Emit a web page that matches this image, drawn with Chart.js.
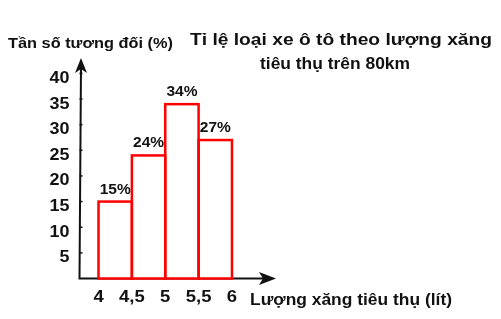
<!DOCTYPE html>
<html>
<head>
<meta charset="utf-8">
<script src="https://cdn.jsdelivr.net/npm/chart.js@4/dist/chart.umd.min.js"></script>
<style>
  body { margin: 0; background: #fff; }
  canvas { display: block; }
</style>
</head>
<body>
<canvas id="chart" width="501" height="319"></canvas>
<script>
// Histogram data: fuel use per 80km (litres) -> relative frequency (%)
const binStarts = [4, 4.5, 5, 5.5];
const binWidth = 0.5;
const percents = [15, 24, 34, 27];
const xTickValues = [4, 4.5, 5, 5.5, 6];
const xTickLabels = ['4', '4,5', '5', '5,5', '6'];
const yTickValues = [5, 10, 15, 20, 25, 30, 35, 40];

const titleLines = ['Tỉ lệ loại xe ô tô theo lượng xăng', 'tiêu thụ trên 80km'];
const yTitle = 'Tần số tương đối (%)';
const xTitle = 'Lượng xăng tiêu thụ (lít)';

const FONT = '"Liberation Sans", Arial, sans-serif';

// draws bold text, stretched horizontally (fit to a width if given)
function drawText(ctx, text, x, y, size, align, opts = {}) {
  ctx.save();
  ctx.font = `bold ${size}px ${FONT}`;
  ctx.fillStyle = '#111';
  ctx.textBaseline = 'alphabetic';
  const w = ctx.measureText(text).width;
  const sx = opts.width ? opts.width / w : (opts.stretch || 1);
  ctx.translate(x, y);
  ctx.scale(sx, 1);
  ctx.textAlign = align;
  ctx.fillText(text, 0, 0);
  ctx.restore();
}

function arrow(ctx, tipX, tipY, dir, len, half) {
  ctx.beginPath();
  if (dir === 'up') {
    ctx.moveTo(tipX, tipY);
    ctx.lineTo(tipX - half, tipY + len);
    ctx.lineTo(tipX, tipY + len - 4);
    ctx.lineTo(tipX + half, tipY + len);
  } else {
    ctx.moveTo(tipX, tipY);
    ctx.lineTo(tipX - len, tipY - half);
    ctx.lineTo(tipX - len + 4, tipY);
    ctx.lineTo(tipX - len, tipY + half);
  }
  ctx.closePath();
  ctx.fill();
}

const axesPlugin = {
  id: 'axesPlugin',
  beforeDatasetsDraw(chart) {
    const { ctx, chartArea: a, scales } = chart;
    ctx.save();
    ctx.strokeStyle = '#111';
    ctx.fillStyle = '#111';
    ctx.lineWidth = 2;
    ctx.beginPath();
    ctx.moveTo(a.left - 1, a.bottom);
    ctx.lineTo(a.right - 8, a.bottom);
    ctx.moveTo(a.left, a.bottom);
    ctx.lineTo(a.left + 1.5, a.top + 8);
    ctx.stroke();
    arrow(ctx, a.left + 1.5, a.top, 'up', 15, 6);
    arrow(ctx, a.right, a.bottom, 'right', 17, 6.5);

    // small tick marks on y axis
    ctx.lineWidth = 1.5;
    yTickValues.forEach((v) => {
      const py = scales.y.getPixelForValue(v);
      ctx.beginPath();
      ctx.moveTo(a.left, py);
      ctx.lineTo(a.left + 3, py);
      ctx.stroke();
    });
    ctx.restore();
  },
  afterDatasetsDraw(chart) {
    const { ctx, chartArea: a, scales } = chart;
    const meta = chart.getDatasetMeta(0);

    // red outlines of the histogram bars
    ctx.save();
    ctx.strokeStyle = '#ff0000';
    ctx.lineWidth = 2.5;
    meta.data.forEach((bar) => {
      const { x, y, base, width } = bar.getProps(['x', 'y', 'base', 'width'], true);
      ctx.strokeRect(x - width / 2, y, width, base - y);
    });
    ctx.restore();

    // value labels
    meta.data.forEach((bar, i) => {
      const { x, y } = bar.getProps(['x', 'y'], true);
      drawText(ctx, `${percents[i]}%`, x, y - 8, 14.5, 'center', { stretch: 1.07 });
    });

    // y tick labels
    yTickValues.forEach((v) => {
      const py = scales.y.getPixelForValue(v);
      drawText(ctx, String(v), a.left - 10, py + 9.5, 16, 'right', { stretch: 1.12 });
    });

    // x tick labels
    xTickValues.forEach((v, i) => {
      const px = scales.x.getPixelForValue(v);
      drawText(ctx, xTickLabels[i], px, 302, 16.5, 'center', { stretch: 1.12 });
    });

    // titles
    drawText(ctx, titleLines[0], 341, 45, 17, 'center', { width: 302 });
    drawText(ctx, titleLines[1], 335, 69, 17, 'center', { width: 150 });
    drawText(ctx, yTitle, 8, 48, 15, 'left', { width: 165 });
    drawText(ctx, xTitle, 250, 305, 16, 'left', { width: 202 });
  }
};

const ctx = document.getElementById('chart').getContext('2d');
new Chart(ctx, {
  type: 'bar',
  data: {
    datasets: [
      {
        data: binStarts.map((s, i) => ({ x: s + binWidth / 2, y: percents[i] })),
        backgroundColor: '#ffffff',
        borderWidth: 0,
        barPercentage: 1,
        categoryPercentage: 1,
      },
    ],
  },
  options: {
    responsive: false,
    animation: false,
    layout: { padding: { left: 0, right: 225, top: 58, bottom: 0 } },
    plugins: {
      legend: { display: false },
      tooltip: { enabled: false },
    },
    scales: {
      x: {
        type: 'linear',
        offset: false,
        min: 3.715,
        max: 6.66,
        grid: { display: false },
        border: { display: false },
        ticks: { display: false },
        afterFit: (s) => { s.height = 40.5; },
      },
      y: {
        min: 0,
        max: 43,
        grid: { display: false },
        border: { display: false },
        ticks: { display: false },
        afterFit: (s) => { s.width = 79.5; },
      },
    },
  },
  plugins: [axesPlugin],
});
</script>
</body>
</html>
